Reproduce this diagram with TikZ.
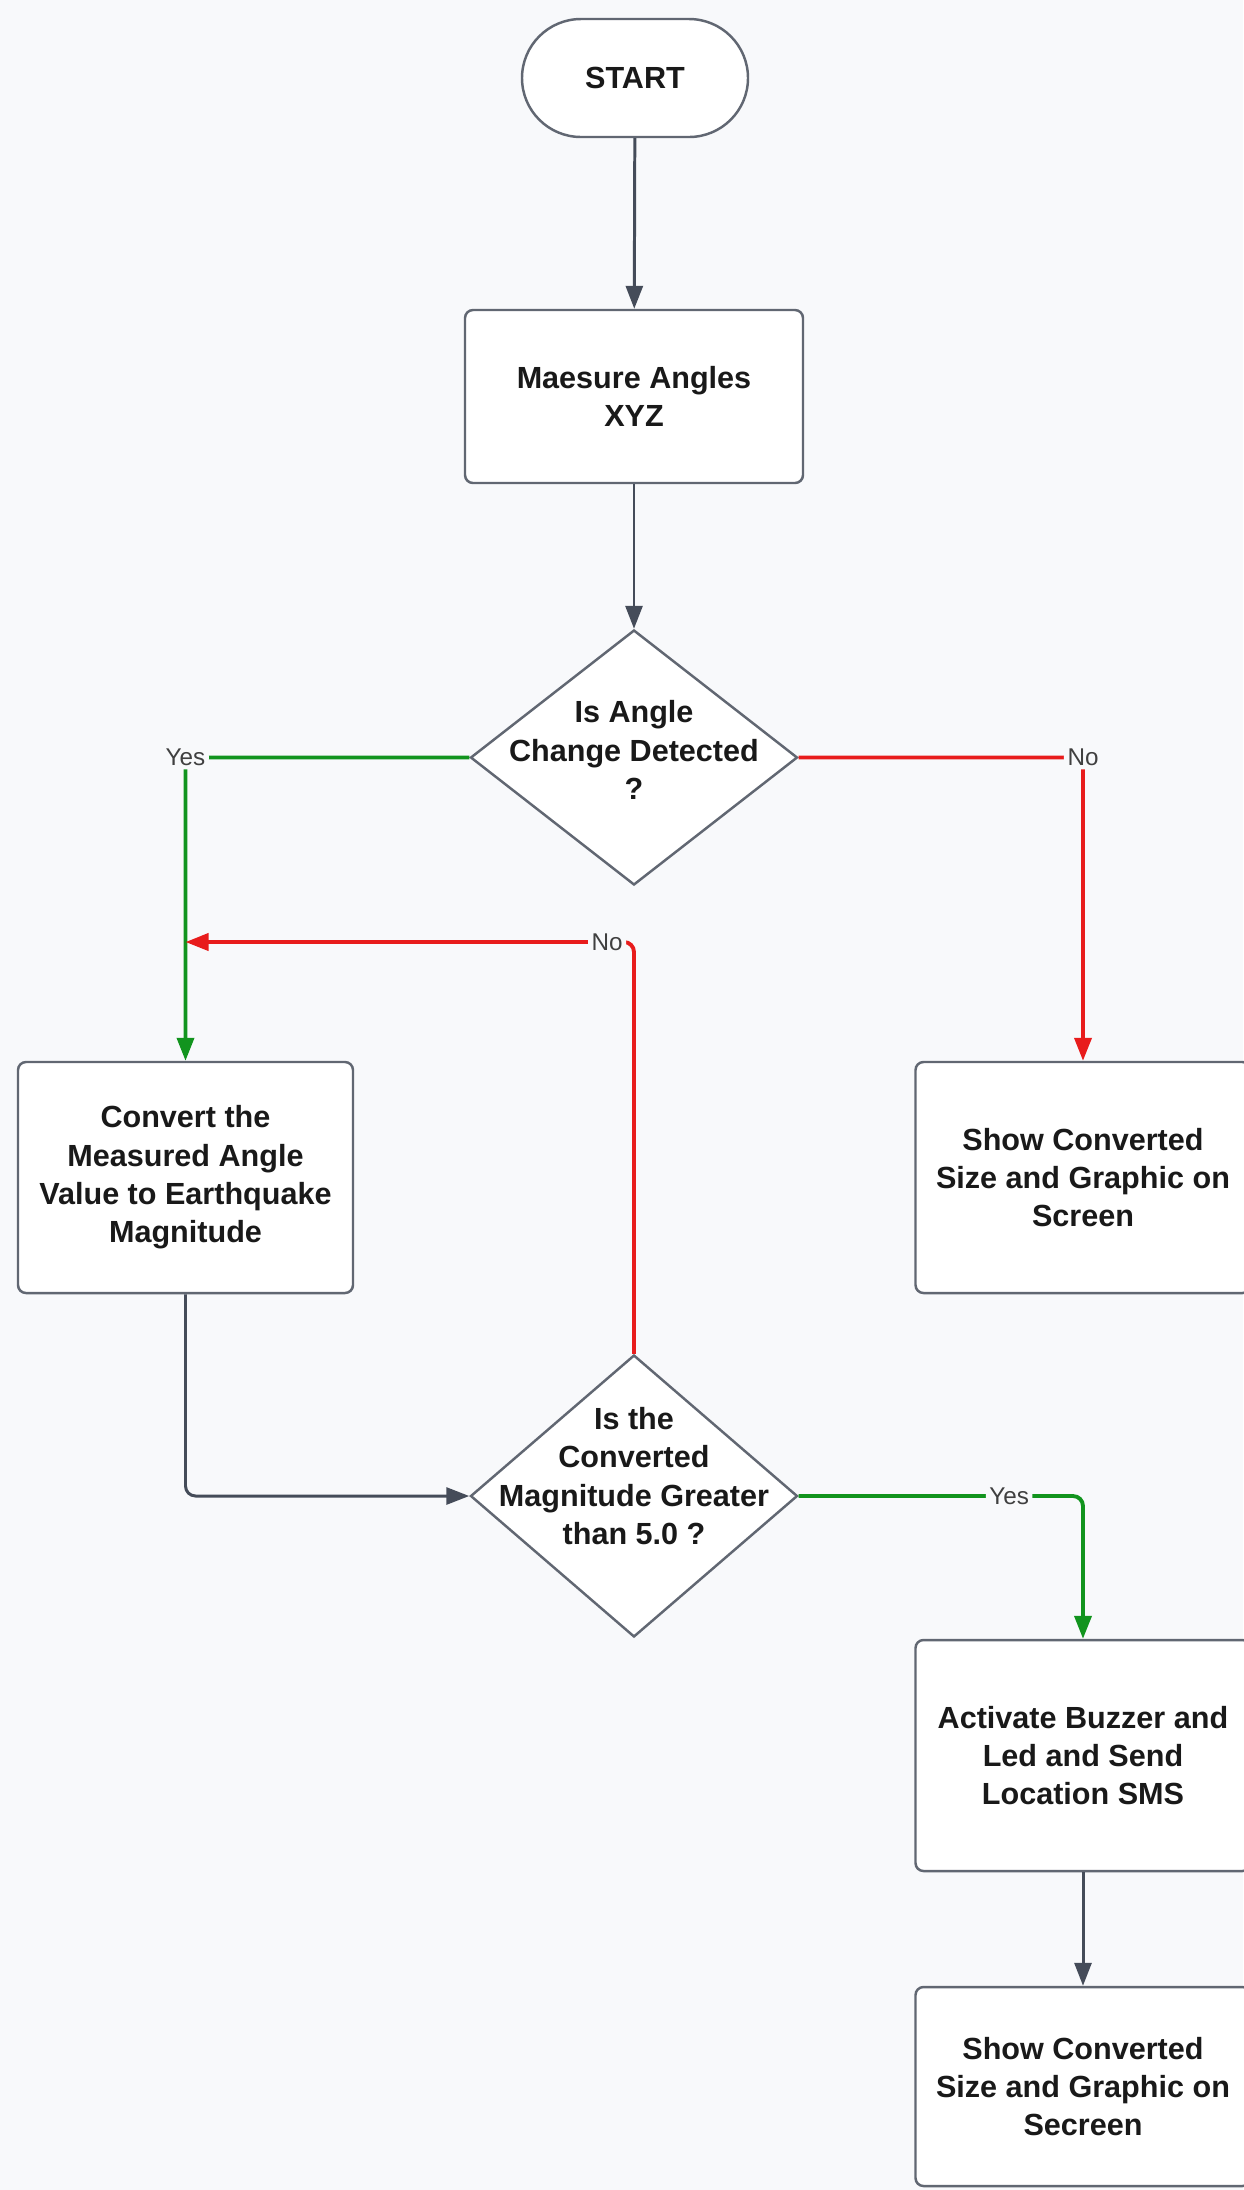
\documentclass[tikz,border=0pt]{standalone}
\usepackage{fontspec}
\setmainfont{Liberation Sans}
\usetikzlibrary{shapes.geometric,arrows.meta}
\definecolor{bgcol}{HTML}{F8F9FB}
\definecolor{linecol}{HTML}{454C59}
\definecolor{yescol}{HTML}{12941E}
\definecolor{nocol}{HTML}{E81C1C}

\begin{document}
\begin{tikzpicture}[x=1cm, y=-1cm,
  >={Triangle[length=0.23cm, width=0.17cm]},
  txt/.style={align=center, text=black!90, font=\bfseries\fontsize{8.7}{10.9}\selectfont},
  box/.style={txt, draw=linecol!85, line width=0.7pt, fill=white, rounded corners=0.08cm, minimum width=3.35cm, minimum height=2.31cm},
  decision/.style={diamond, draw=linecol!85, line width=0.7pt, fill=white, inner sep=0pt, minimum width=3.27cm},
  flow/.style={draw=linecol, line width=0.85pt, ->, rounded corners=0.1cm},
  yesflow/.style={flow, draw=yescol, line width=1.1pt},
  noflow/.style={flow, draw=nocol, line width=1.1pt},
  lbl/.style={fill=bgcol, inner sep=1pt, text=black!75, font=\fontsize{6.9}{8}\selectfont}]

\useasboundingbox (0,0) rectangle (12.43,21.90);
\fill[bgcol] (0,0) rectangle (12.43,21.90);

\node[box, minimum width=2.26cm, minimum height=1.18cm, rounded corners=0.59cm] (start) at (6.35,0.78) {START};
\node[box, minimum width=3.38cm, minimum height=1.73cm] (measure) at (6.34,3.965) {Maesure Angles\\XYZ};
\node[decision, minimum height=2.55cm] (angle) at (6.34,7.575) {};
\node[txt] (angletxt) at (6.34,7.50) {Is Angle\\Change Detected\\?};
\node[box] (convert) at (1.855,11.775) {Convert the\\Measured Angle\\Value to Earthquake\\Magnitude};
\node[box] (screen) at (10.83,11.775) {Show Converted\\Size and Graphic on\\Screen};
\node[decision, minimum height=2.82cm] (magn) at (6.34,14.96) {};
\node[txt] (magntxt) at (6.34,14.76) {Is the\\Converted\\Magnitude Greater\\than 5.0 ?};
\node[box] (buzzer) at (10.83,17.555) {Activate Buzzer and\\Led and Send\\Location SMS};
\node[box, minimum height=1.99cm] (secreen) at (10.83,20.865) {Show Converted\\Size and Graphic on\\Secreen};
\coordinate (join) at (1.855,9.42);

\draw[flow] (start) -- (measure);
\draw[flow] (measure) -- (angle);
\draw[yesflow] (angle.west) -| node[lbl] (yes1) {Yes} (convert.north);
\draw[noflow] (angle.east) -| node[lbl] (no1) {No} (screen.north);
\draw[flow] (convert.south) |- (magn.west);
\draw[yesflow] (magn.east) -| node[lbl, pos=0.37] (yes2) {Yes} (buzzer.north);
\draw[noflow] (magn.north) |- node[lbl, pos=0.53] (no2) {No} (join);
\draw[flow] (buzzer) -- (secreen);
\end{tikzpicture}
\end{document}
